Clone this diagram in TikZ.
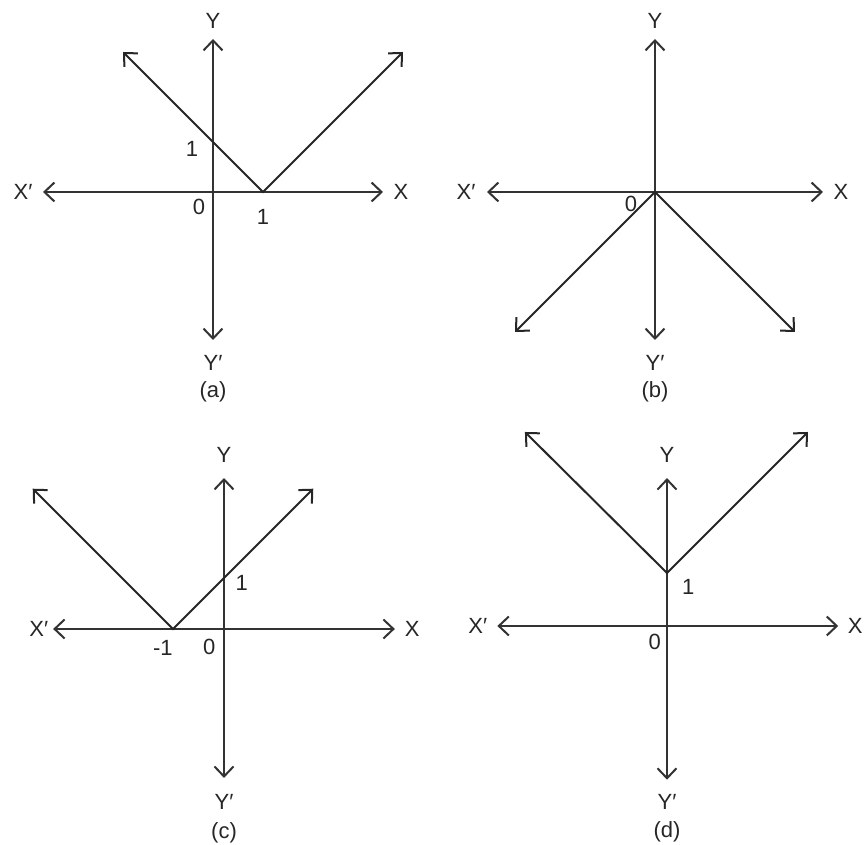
\documentclass[tikz,border=0pt]{standalone}
\usepackage{fontspec}
\setmainfont{Liberation Sans}
\usepackage{tikz}
\usetikzlibrary{arrows.meta}

\begin{document}
\begin{tikzpicture}[
  x=25pt, y=25pt,
  axis/.style={draw=black!80, line width=1pt, {Straight Barb[length=5pt, width=9.5pt]}-{Straight Barb[length=5pt, width=9.5pt]}},
  curve/.style={draw=black!85, line width=1pt, {Straight Barb[length=5pt, width=9.5pt]}-{Straight Barb[length=5pt, width=9.5pt]}},
  lbl/.style={inner sep=0pt, text=black!85, font=\fontsize{11}{13}\selectfont},
  every node/.style={lbl}
]
  \useasboundingbox (0,0) rectangle (17.28,16.9);

  % Panel (a): y = |x - 1|
  \begin{scope}[shift={(4.26,13.06)}]
    \coordinate (aO) at (0,0);
    \coordinate (aXl) at (-3.4,0);  \coordinate (aXr) at (3.4,0);
    \coordinate (aYt) at (0,3.06);  \coordinate (aYb) at (0,-2.96);
    \node (aXp) at (-3.8,0) {X′};
    \node (aX) at (3.76,0) {X};
    \node (aY) at (0,3.42) {Y};
    \node (aYp) at (0,-3.42) {Y′};
    \node (aCap) at (0,-4.0) {(a)};
    \node (aZero) at (-0.28,-0.3) {0};
    \node (aOneY) at (-0.42,0.86) {1};
    \node (aOneX) at (1,-0.5) {1};
    \draw[axis] (aXl) -- (aXr);
    \draw[axis] (aYt) -- (aYb);
    \coordinate (aV) at (1,0);
    \coordinate (aL) at (-1.8,2.8);
    \coordinate (aR) at (3.8,2.8);
    \draw[curve] (aL) -- (aV) -- (aR);
  \end{scope}

  % Panel (b): y = -|x|
  \begin{scope}[shift={(13.1,13.06)}]
    \coordinate (bO) at (0,0);
    \coordinate (bXl) at (-3.36,0);  \coordinate (bXr) at (3.36,0);
    \coordinate (bYt) at (0,3.06);   \coordinate (bYb) at (0,-2.96);
    \node (bXp) at (-3.78,0) {X′};
    \node (bX) at (3.72,0) {X};
    \node (bY) at (0,3.42) {Y};
    \node (bYp) at (0,-3.42) {Y′};
    \node (bCap) at (0,-4.0) {(b)};
    \node (bZero) at (-0.48,-0.24) {0};
    \draw[axis] (bXl) -- (bXr);
    \draw[axis] (bYt) -- (bYb);
    \coordinate (bL) at (-2.8,-2.8);
    \coordinate (bR) at (2.8,-2.8);
    \draw[curve] (bL) -- (bO) -- (bR);
  \end{scope}

  % Panel (c): y = |x + 1|
  \begin{scope}[shift={(4.48,4.32)}, scale=1.02]
    \coordinate (cO) at (0,0);
    \coordinate (cXl) at (-3.35,0);  \coordinate (cXr) at (3.35,0);
    \coordinate (cYt) at (0,2.96);   \coordinate (cYb) at (0,-2.92);
    \node (cXp) at (-3.63,0) {X′};
    \node (cX) at (3.69,0) {X};
    \node (cY) at (0,3.41) {Y};
    \node (cYp) at (0,-3.39) {Y′};
    \node (cCap) at (0,-3.99) {(c)};
    \node (cZero) at (-0.29,-0.36) {0};
    \node (cOneY) at (0.35,0.9) {1};
    \node (cMinus) at (-1.2,-0.38) {-1};
    \draw[axis] (cXl) -- (cXr);
    \draw[axis] (cYt) -- (cYb);
    \coordinate (cV) at (-1,0);
    \coordinate (cL) at (-3.75,2.75);
    \coordinate (cR) at (1.75,2.75);
    \draw[curve] (cL) -- (cV) -- (cR);
  \end{scope}

  % Panel (d): y = |x| + 1
  \begin{scope}[shift={(13.34,4.38)}, scale=1.06]
    \coordinate (dO) at (0,0);
    \coordinate (dXl) at (-3.2,0);  \coordinate (dXr) at (3.23,0);
    \coordinate (dYt) at (0,2.79);  \coordinate (dYb) at (0,-2.9);
    \node (dXp) at (-3.57,0) {X′};
    \node (dX) at (3.55,0) {X};
    \node (dY) at (0,3.23) {Y};
    \node (dYp) at (0,-3.32) {Y′};
    \node (dCap) at (0,-3.88) {(d)};
    \node (dZero) at (-0.23,-0.3) {0};
    \node (dOneY) at (0.4,0.74) {1};
    \draw[axis] (dXl) -- (dXr);
    \draw[axis] (dYt) -- (dYb);
    \coordinate (dV) at (0,1);
    \coordinate (dL) at (-2.68,3.66);
    \coordinate (dR) at (2.66,3.66);
    \draw[curve] (dL) -- (dV) -- (dR);
  \end{scope}

\end{tikzpicture}
\end{document}
